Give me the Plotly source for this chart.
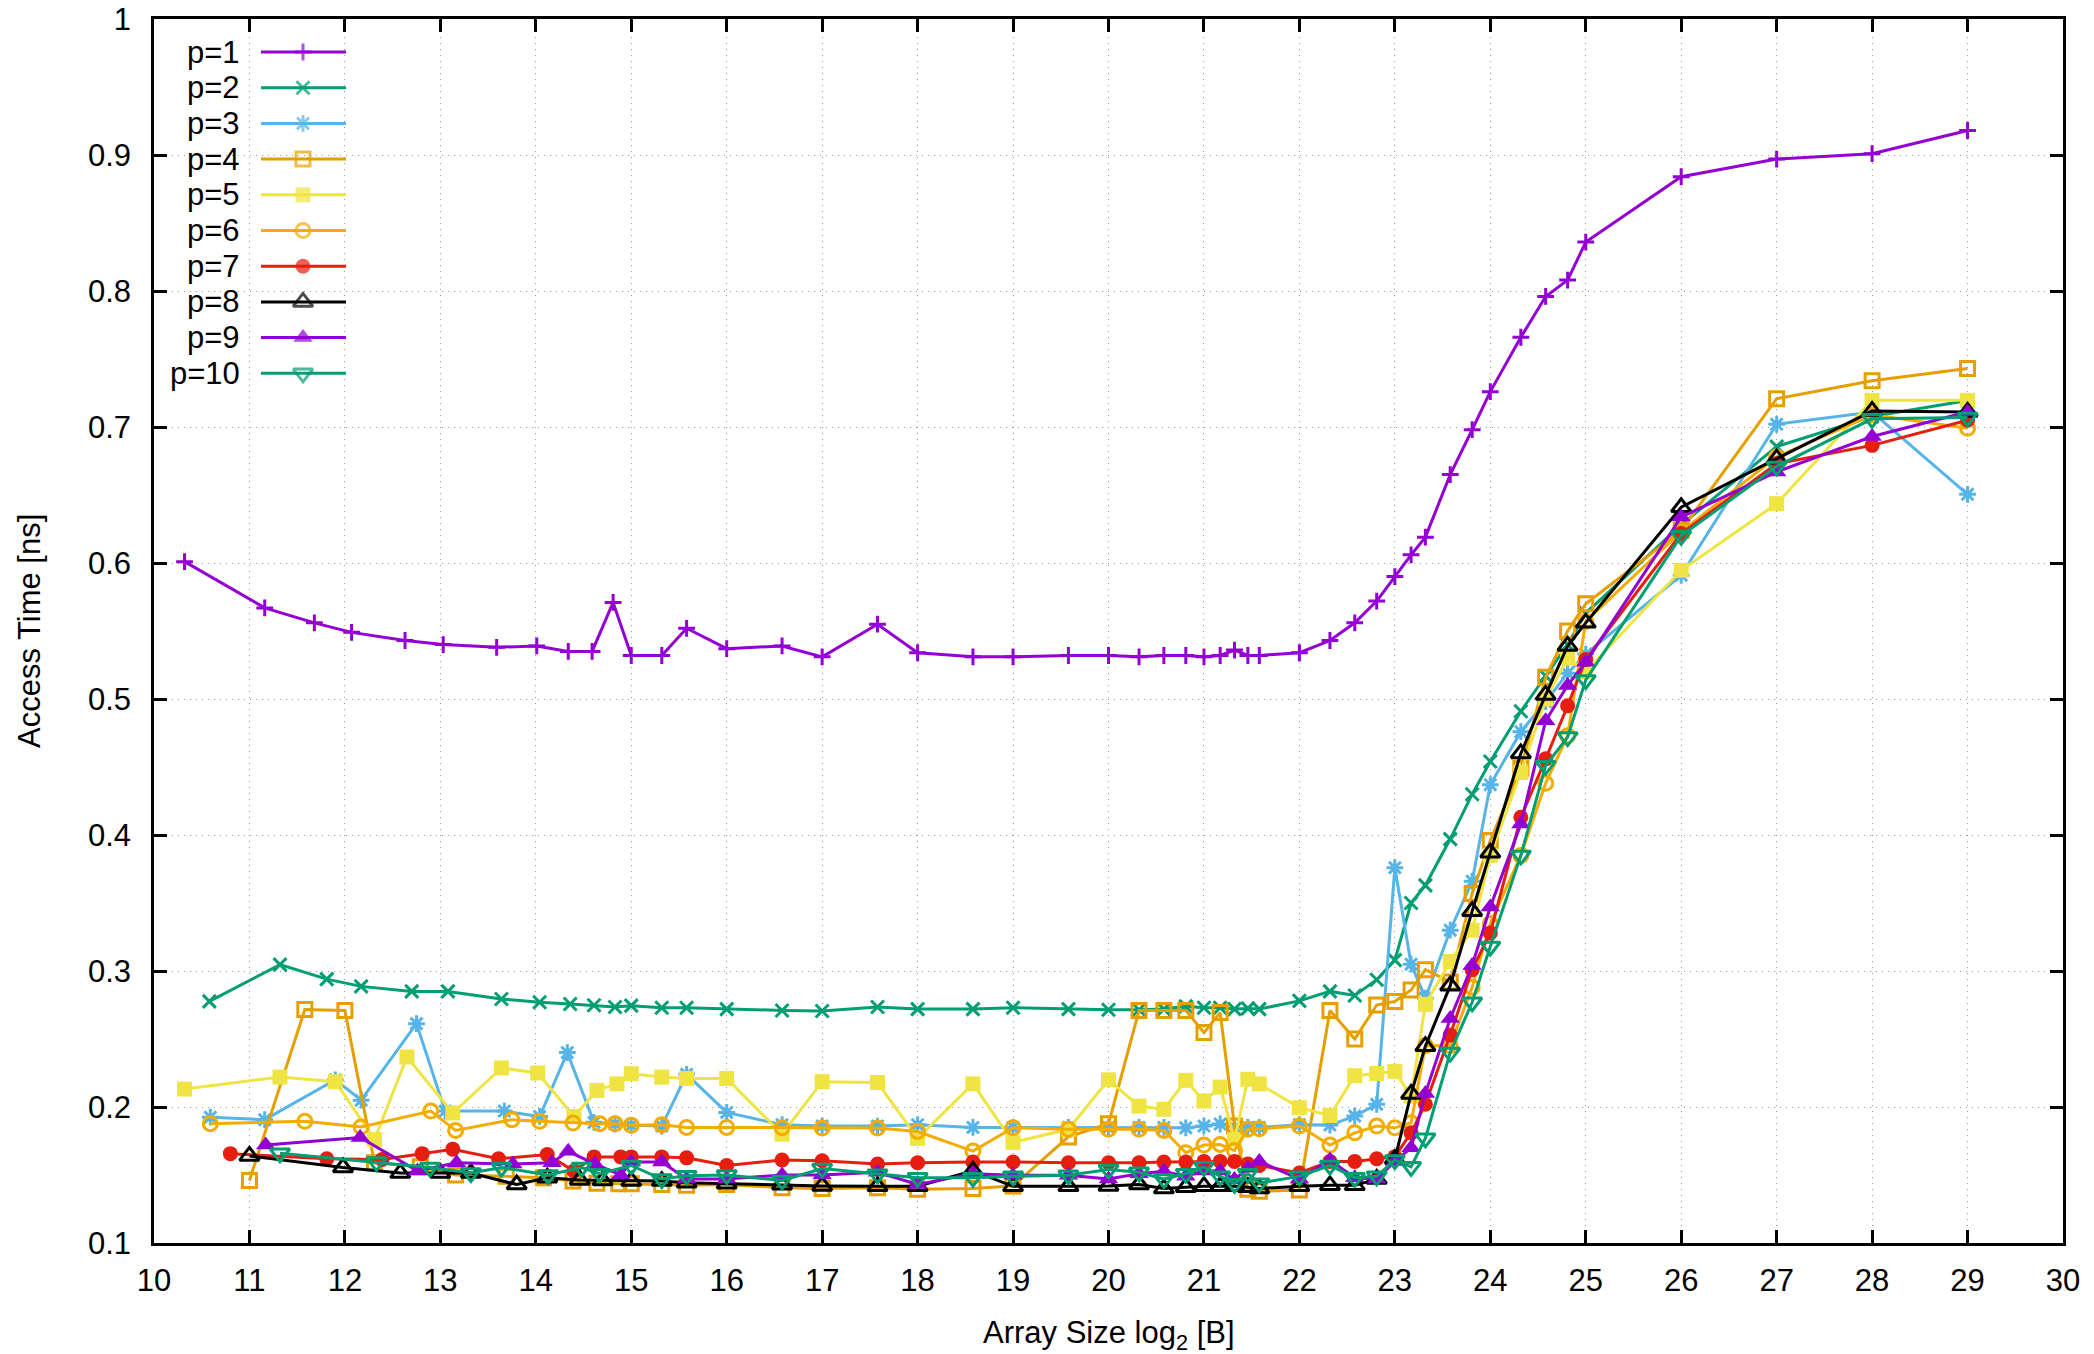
import plotly.graph_objects as go

# ---------------- data ----------------
# shared array-size grid (log2 bytes) used by every series from 2^15 upward
grid_x = [15.0, 15.32, 15.58, 16.0, 16.58, 17.0, 17.58, 18.0, 18.58, 19.0, 19.58, 20.0,
          20.32, 20.58, 20.81, 21.0, 21.17, 21.32, 21.46, 21.58, 22.0, 22.32, 22.58, 22.81,
          23.0, 23.17, 23.32, 23.58, 23.81, 24.0, 24.32, 24.58, 24.81, 25.0, 26.0, 27.0, 28.0, 29.0]

p1_low_x = [10.32, 11.16, 11.68, 12.07, 12.63, 13.03, 13.59, 14.01, 14.34, 14.59, 14.81]
p1_low_y = [0.601, 0.567, 0.556, 0.549, 0.543, 0.540, 0.538, 0.539, 0.535, 0.535, 0.571]
p1_y = [0.532, 0.532, 0.552, 0.537, 0.539, 0.531, 0.555, 0.534, 0.531, 0.531, 0.532, 0.532,
        0.531, 0.532, 0.532, 0.531, 0.532, 0.536, 0.532, 0.532, 0.534, 0.543, 0.556, 0.572,
        0.590, 0.606, 0.619, 0.665, 0.698, 0.726, 0.766, 0.796, 0.808, 0.836, 0.884, 0.897, 0.901, 0.918]

p2_low_x = [10.58, 11.32, 11.81, 12.17, 12.70, 13.08, 13.64, 14.04, 14.36, 14.61, 14.83]
p2_low_y = [0.2777, 0.3047, 0.294, 0.2887, 0.285, 0.285, 0.2794, 0.277, 0.2757, 0.2748, 0.2735]
p2_y = [0.2745, 0.273, 0.273, 0.272, 0.271, 0.2706, 0.2735, 0.272, 0.272, 0.273, 0.272, 0.2715,
        0.2715, 0.272, 0.274, 0.273, 0.273, 0.272, 0.2725, 0.272, 0.278, 0.285, 0.282, 0.2936,
        0.308, 0.350, 0.363, 0.397, 0.430, 0.454, 0.491, 0.517, 0.540, 0.563, 0.628, 0.6856, 0.7077, 0.7195]

p3_low_x = [10.59, 11.16, 11.90, 12.17, 12.75, 13.05, 13.67, 14.04, 14.33, 14.61, 14.83]
p3_low_y = [0.1925, 0.1907, 0.220, 0.205, 0.2613, 0.197, 0.197, 0.193, 0.240, 0.1887, 0.1875]
p3_y = [0.1865, 0.186, 0.224, 0.196, 0.187, 0.186, 0.186, 0.187, 0.185, 0.185, 0.185, 0.185,
        0.185, 0.185, 0.1847, 0.186, 0.1875, 0.1855, 0.185, 0.185, 0.187, 0.1867, 0.1933, 0.202,
        0.376, 0.305, 0.280, 0.330, 0.366, 0.437, 0.476, 0.498, 0.519, 0.533, 0.591, 0.702, 0.711, 0.6505]

p4_low_x = [11.0, 11.58, 12.0, 12.31, 12.79, 13.16, 13.69, 14.08, 14.39, 14.64, 14.87]
p4_low_y = [0.146, 0.2716, 0.271, 0.159, 0.156, 0.150, 0.149, 0.148, 0.1455, 0.144, 0.1435]
p4_y = [0.1435, 0.143, 0.1425, 0.143, 0.1407, 0.140, 0.1407, 0.1395, 0.140, 0.142, 0.178, 0.1877,
        0.271, 0.271, 0.271, 0.2547, 0.2694, 0.186, 0.1395, 0.138, 0.139, 0.271, 0.250, 0.275,
        0.2776, 0.286, 0.301, 0.292, 0.357, 0.396, 0.449, 0.516, 0.550, 0.570, 0.624, 0.7208, 0.734, 0.743]

p5_low_x = [10.32, 11.32, 11.90, 12.31, 12.65, 13.13, 13.64, 14.02, 14.40, 14.64, 14.85]
p5_low_y = [0.2132, 0.222, 0.2186, 0.176, 0.2368, 0.1956, 0.2287, 0.225, 0.193, 0.2122, 0.217]
p5_y = [0.2245, 0.222, 0.221, 0.221, 0.180, 0.2186, 0.218, 0.177, 0.217, 0.174, 0.1836, 0.220,
        0.2007, 0.1983, 0.2196, 0.2044, 0.2147, 0.176, 0.2204, 0.217, 0.1995, 0.1938, 0.223, 0.2246,
        0.2262, 0.208, 0.2755, 0.307, 0.330, 0.385, 0.446, 0.500, 0.530, 0.520, 0.5946, 0.6436, 0.7196, 0.7196]

p6_low_x = [10.59, 11.58, 12.17, 12.90, 13.16, 13.75, 14.04, 14.39, 14.67, 14.83]
p6_low_y = [0.1877, 0.1895, 0.1853, 0.197, 0.1828, 0.1907, 0.1895, 0.1882, 0.1877, 0.1877]
p6_y = [0.1865, 0.187, 0.185, 0.185, 0.1848, 0.1845, 0.1845, 0.182, 0.1676, 0.1848, 0.1836, 0.1836,
        0.1836, 0.1828, 0.1664, 0.172, 0.1725, 0.168, 0.1836, 0.184, 0.186, 0.172, 0.181, 0.186,
        0.1847, 0.1884, 0.245, 0.245, 0.288, 0.335, 0.385, 0.438, 0.473, 0.557, 0.623, 0.678, 0.709, 0.699]

p7_low_x = [10.8, 11.81, 12.39, 12.81, 13.13, 13.61, 14.12, 14.40, 14.61, 14.89]
p7_low_y = [0.1657, 0.162, 0.1614, 0.1657, 0.169, 0.162, 0.165, 0.153, 0.1633, 0.1633]
p7_y = [0.1633, 0.1633, 0.1626, 0.157, 0.161, 0.1605, 0.158, 0.159, 0.1596, 0.1596, 0.159, 0.159,
        0.159, 0.1596, 0.1596, 0.160, 0.160, 0.160, 0.158, 0.157, 0.1515, 0.160, 0.160, 0.162,
        0.1635, 0.181, 0.202, 0.253, 0.301, 0.328, 0.413, 0.456, 0.495, 0.529, 0.6216, 0.673, 0.6865, 0.705]

p8_low_x = [11.0, 11.98, 12.58, 13.0, 13.32, 13.80, 14.12, 14.46, 14.70]
p8_low_y = [0.164, 0.1555, 0.1514, 0.1514, 0.1514, 0.143, 0.148, 0.1464, 0.146]
p8_y = [0.1455, 0.1455, 0.1443, 0.1436, 0.1429, 0.142, 0.1417, 0.1417, 0.153, 0.1417, 0.1417, 0.142,
        0.143, 0.140, 0.141, 0.1417, 0.1417, 0.1417, 0.141, 0.140, 0.1417, 0.1424, 0.1424, 0.147,
        0.1616, 0.2096, 0.2447, 0.2892, 0.344, 0.387, 0.460, 0.503, 0.539, 0.556, 0.641, 0.6767, 0.7118, 0.711]

p9_low_x = [11.17, 12.16, 12.76, 13.17, 13.76, 14.17, 14.34, 14.62, 14.89]
p9_low_y = [0.172, 0.1776, 0.153, 0.159, 0.158, 0.159, 0.1674, 0.158, 0.150]
p9_y = [0.1595, 0.1595, 0.147, 0.147, 0.150, 0.150, 0.152, 0.143, 0.151, 0.1498, 0.1498, 0.147,
        0.151, 0.1527, 0.149, 0.153, 0.153, 0.1466, 0.155, 0.160, 0.147, 0.161, 0.148, 0.147,
        0.160, 0.170, 0.210, 0.265, 0.304, 0.347, 0.408, 0.484, 0.510, 0.527, 0.6338, 0.667, 0.693, 0.711]

p10_low_x = [11.32, 12.33, 12.89, 13.32, 13.64, 14.13, 14.48, 14.67]
p10_low_y = [0.166, 0.1595, 0.1555, 0.1514, 0.1555, 0.150, 0.1555, 0.151]
p10_y = [0.157, 0.147, 0.1495, 0.150, 0.146, 0.1547, 0.1505, 0.148, 0.148, 0.149, 0.1498, 0.154,
         0.152, 0.147, 0.151, 0.156, 0.149, 0.1436, 0.151, 0.144, 0.149, 0.157, 0.148, 0.149,
         0.161, 0.156, 0.177, 0.240, 0.277, 0.318, 0.385, 0.451, 0.472, 0.514, 0.620, 0.671, 0.706, 0.707]

labels = ["p=1", "p=2", "p=3", "p=4", "p=5", "p=6", "p=7", "p=8", "p=9", "p=10"]
x_ticks = list(range(10, 31))
y_ticks = [0.1, 0.2, 0.3, 0.4, 0.5, 0.6, 0.7, 0.8, 0.9, 1.0]
y_tick_text = ["0.1", "0.2", "0.3", "0.4", "0.5", "0.6", "0.7", "0.8", "0.9", "1"]

series = [
    (p1_low_x, p1_low_y, p1_y), (p2_low_x, p2_low_y, p2_y), (p3_low_x, p3_low_y, p3_y),
    (p4_low_x, p4_low_y, p4_y), (p5_low_x, p5_low_y, p5_y), (p6_low_x, p6_low_y, p6_y),
    (p7_low_x, p7_low_y, p7_y), (p8_low_x, p8_low_y, p8_y), (p9_low_x, p9_low_y, p9_y),
    (p10_low_x, p10_low_y, p10_y),
]

# ---------------- styles ----------------
colors = ["#9400D3", "#009E73", "#56B4E9", "#E69F00", "#F0E442",
          "#F5AC00", "#E51E10", "#000000", "#9400D3", "#009E73"]
symbols = ["cross-thin", "x-thin", "asterisk", "square-open", "square",
           "circle-open", "circle", "triangle-up-open", "triangle-up", "triangle-down-open"]
sizes = [12, 13, 14, 14, 15, 14, 15, 17, 17, 17]
LW = 3
FONT = "Liberation Sans, Arial, sans-serif"
FS = 31

# plot-area geometry in pixels
W, H = 2094, 1354
ML, MR, MT, MB = 154, 31, 19, 111
PX0, PX1 = ML, W - MR
PY0, PY1 = MT, H - MB

# legend layout (pixels)
LEG_TEXT_X = 242
LEG_LINE_X0, LEG_MARK_X, LEG_LINE_X1 = 261, 303, 346
LEG_Y0, LEG_DY = 52, 35.7

fig = go.Figure()


def marker_for(i, size):
    sym = symbols[i]
    line_only = sym.endswith("open") or sym in ("cross-thin", "x-thin", "asterisk")
    return dict(
        symbol=sym, size=size, color=colors[i],
        line=dict(color=colors[i], width=LW if line_only else 0),
    )


for i, (lx, ly, gy) in enumerate(series):
    fig.add_trace(go.Scatter(
        x=lx + grid_x, y=ly + gy, mode="lines+markers", name=labels[i],
        line=dict(color=colors[i], width=LW),
        marker=marker_for(i, sizes[i]),
        showlegend=False, cliponaxis=False,
    ))

# hand-built gnuplot-style key (text on the left, sample on the right)
for i, lab in enumerate(labels):
    yk = LEG_Y0 + LEG_DY * i
    m = marker_for(i, sizes[i])
    m["size"] = [0, sizes[i], 0]
    fig.add_trace(go.Scatter(
        x=[LEG_LINE_X0, LEG_MARK_X, LEG_LINE_X1], y=[yk, yk, yk],
        xaxis="x2", yaxis="y2", mode="lines+markers",
        line=dict(color=colors[i], width=LW), marker=m,
        showlegend=False, hoverinfo="skip", cliponaxis=False,
    ))
    fig.add_annotation(x=LEG_TEXT_X, y=yk, xref="x2", yref="y2", text=lab,
                       showarrow=False, xanchor="right", yanchor="middle",
                       font=dict(family=FONT, size=FS, color="black"))

axis_common = dict(
    showline=True, linecolor="black", linewidth=2.5, mirror="allticks",
    ticks="inside", ticklen=13, tickwidth=2.5, tickcolor="black",
    showgrid=True, gridcolor="#9a9a9a", gridwidth=1, griddash="1px,5px",
    zeroline=False, automargin=False,
    tickfont=dict(family=FONT, size=FS, color="black"),
)

fig.update_layout(
    width=W, height=H,
    margin=dict(l=ML, r=MR, t=MT, b=MB, pad=0, autoexpand=False),
    paper_bgcolor="white", plot_bgcolor="white",
    font=dict(family=FONT, size=FS, color="black"),
    xaxis=dict(range=[10, 30], tickmode="array", tickvals=x_ticks,
               ticktext=[str(v) for v in x_ticks], ticklabelstandoff=8, **axis_common),
    yaxis=dict(range=[0.1, 1.0], tickmode="array", tickvals=y_ticks,
               ticktext=y_tick_text, ticklabelstandoff=14, **axis_common),
    xaxis2=dict(range=[PX0, PX1], overlaying="x", anchor="y2", visible=False,
                fixedrange=True, automargin=False),
    yaxis2=dict(range=[PY1, PY0], overlaying="y", anchor="x2", visible=False,
                fixedrange=True, automargin=False),
    showlegend=False,
)

fig.add_annotation(x=0.5, y=-(1335 - PY1) / (PY1 - PY0), xref="paper", yref="paper",
                   text="Array Size log<sub>2</sub> [B]", showarrow=False,
                   xanchor="center", yanchor="middle",
                   font=dict(family=FONT, size=FS, color="black"))
fig.add_annotation(x=(29 - PX0) / (PX1 - PX0), y=0.5, xref="paper", yref="paper",
                   text="Access Time [ns]", showarrow=False, textangle=-90,
                   xanchor="center", yanchor="middle",
                   font=dict(family=FONT, size=FS, color="black"))

fig.write_html(
    "out.html",
    config={"displayModeBar": False},
    post_script="document.body.style.margin='0';document.body.style.overflow='hidden';",
)
